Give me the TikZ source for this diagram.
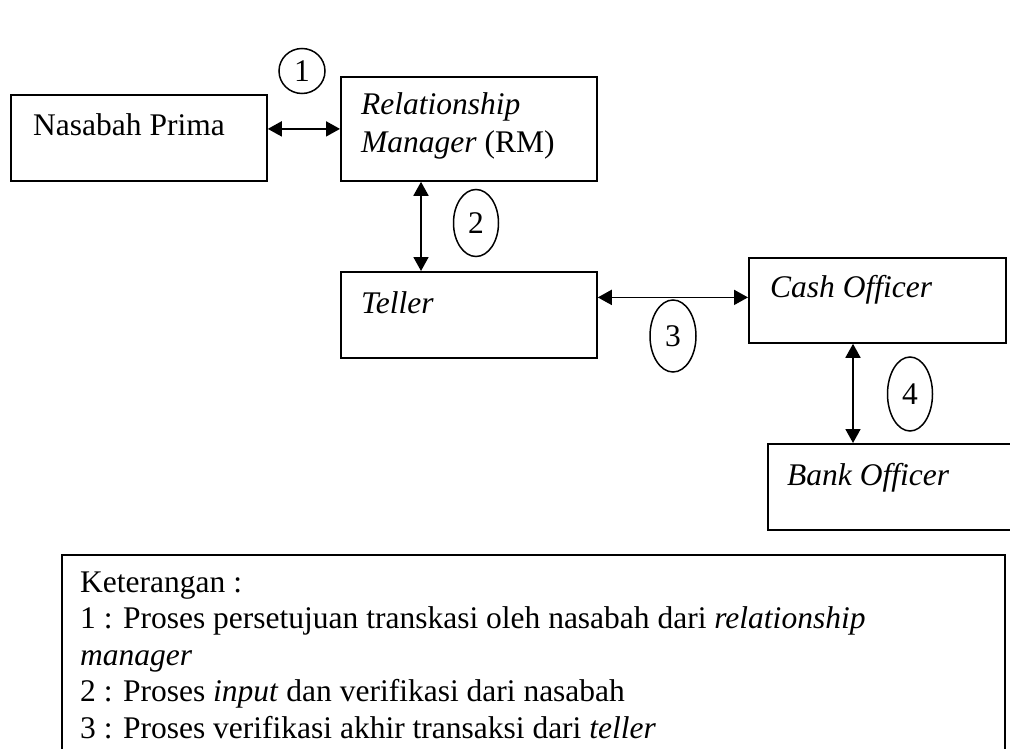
\documentclass[tikz,border=0pt]{standalone}
\usepackage{fontspec}
\setmainfont{Liberation Serif}
\usetikzlibrary{arrows.meta,shapes.geometric}

\tikzset{
  box/.style={draw, rectangle, line width=1.8pt, anchor=north west, inner sep=0pt},
  txt/.style={anchor=base west, inner sep=0pt, align=left},
  num/.style={draw, ellipse, line width=1.5pt, inner sep=0pt},
  link/.style={{Triangle[length=14pt,width=15pt]}-{Triangle[length=14pt,width=15pt]}, line width=1.8pt}
}

\begin{document}
\begin{tikzpicture}[x=1pt, y=-1pt, font=\fontsize{31.5}{38}\selectfont]
\useasboundingbox (0,0) rectangle (1010,749);
\clip (0,0) rectangle (1010,749);

\node[box, minimum width=256pt, minimum height=86pt] (nasabah) at (10,94) {};
\node[box, minimum width=256pt, minimum height=104pt] (rm) at (340,76) {};
\node[box, minimum width=256pt, minimum height=86pt] (teller) at (340,271) {};
\node[box, minimum width=257pt, minimum height=85pt] (cash) at (748,257) {};
\node[box, minimum width=280pt, minimum height=86pt] (bank) at (767,443) {};
\node[box, minimum width=943pt, minimum height=260pt] (ket) at (61,554) {};

% base anchor of a multi-line text is its last line
\node[txt] (tnasabah) at (33,136) {Nasabah Prima};
\node[txt] (trm) at (361,153) {\textit{Relationship}\\\textit{Manager} (RM)};
\node[txt] (tteller) at (361,313) {\textit{Teller}};
\node[txt] (tcash) at (770,297) {\textit{Cash Officer}};
\node[txt] (tbank) at (787,485) {\textit{Bank Officer}};
\node[txt, font=\fontsize{31.5}{36.5}\selectfont] (tket) at (80,738) {Keterangan :\\
1 : Proses persetujuan transkasi oleh nasabah dari \textit{relationship}\\
\textit{manager}\\
2 : Proses \textit{input} dan verifikasi dari nasabah\\
3 : Proses verifikasi akhir transaksi dari \textit{teller}};

\node[num, minimum width=46pt, minimum height=45pt] (n1) at (302,71) {1};
\node[num, minimum width=45pt, minimum height=67pt] (n2) at (476,223) {2};
\node[num, minimum width=46pt, minimum height=72pt] (n3) at (673,336) {3};
\node[num, minimum width=45pt, minimum height=74pt] (n4) at (910,394) {4};

\path[draw,link] (rm.west -| nasabah.east) -- (rm.west);
\path[draw,link] ([xshift=81pt]rm.south west) -- ([xshift=81pt]teller.north west);
\path[draw,link] ([yshift=3pt]cash.west -| teller.east) -- ([yshift=3pt]cash.west);
\path[draw,link] ([xshift=105pt]cash.south west) -- ([xshift=105pt]cash.south west |- bank.north);
\end{tikzpicture}
\end{document}
